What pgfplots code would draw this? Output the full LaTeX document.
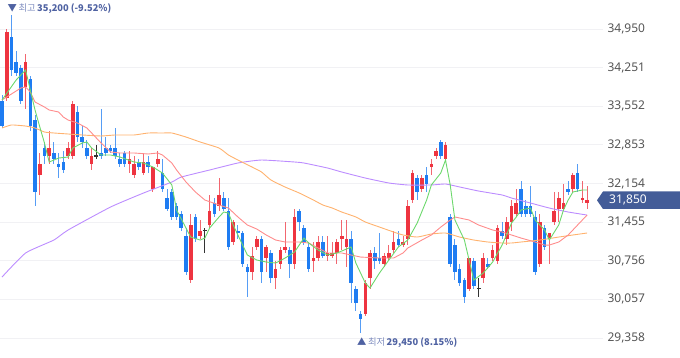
\documentclass[border=0pt]{standalone}
\usepackage{fontspec}
\setmainfont{Noto Sans}
\newfontfamily\kr{Noto Sans CJK KR}
\usepackage{pgfplots}
\pgfplotsset{compat=1.18}
\usepackage{pgfplotstable}
\definecolor{cred}{HTML}{EE3440}
\definecolor{cblue}{HTML}{1E7CF2}
\definecolor{magreen}{HTML}{6CD86C}
\definecolor{mared}{HTML}{FF8C8C}
\definecolor{maorange}{HTML}{FFB26E}
\definecolor{mapurple}{HTML}{BC8CFF}
\definecolor{tickgray}{HTML}{555555}
\definecolor{gridc}{HTML}{F1F1F4}
\definecolor{boxblue}{HTML}{435C98}
\definecolor{anndark}{HTML}{4F62A2}
\definecolor{annlight}{HTML}{7F8DBF}

\pgfplotstableread{
i o h l c
1 33700 34950 33650 34900
5 33900 34500 33500 34350
8 32300 32700 31950 32500
10 32650 33100 32500 32800
14 32650 32900 32600 32800
15 32650 33650 32600 33600
19 32500 32800 32400 32650
27 32500 32750 32350 32600
28 32300 32650 32250 32500
30 32350 32700 32300 32550
32 32050 32450 32000 32450
33 32500 32750 32450 32600
40 30400 31600 30350 31400
42 31200 31500 31150 31300
44 31400 31950 31350 31650
46 31750 32250 31650 31950
49 31100 31500 31050 31450
53 30550 31000 30400 30850
54 31000 31200 30950 31150
56 30800 31050 30550 31000
58 30450 30750 30250 30600
59 30700 31000 30600 30950
60 30950 31450 30900 31000
62 30700 31700 30600 31550
66 30750 31100 30550 30800
67 30800 31200 30750 31100
69 30850 31200 30750 30900
70 30850 31100 30800 30900
71 30900 31150 30700 31100
72 31150 31500 30950 31200
73 31000 31500 30650 31150
77 29800 30400 29750 30350
78 30450 30950 30250 30900
81 30700 30900 30650 30850
82 30800 31050 30750 30900
83 30950 31300 30900 31100
85 31050 31200 31000 31100
86 31150 31850 31050 31750
87 31850 32400 31800 32350
89 32050 32300 32000 32250
91 32450 32600 32300 32500
92 32650 32800 32600 32750
94 32600 32900 32550 32850
99 30250 30800 30200 30800
102 30450 30900 30350 30800
104 30800 31050 30750 30950
105 30750 31400 30700 31350
107 31150 31550 31050 31450
108 31450 31850 31300 31750
109 31600 32050 31550 31800
114 30700 31600 30650 31450
116 31150 31250 30700 31250
117 31450 32000 31400 31650
118 31700 32000 31450 31900
119 31700 32150 31650 31800
121 32050 32350 32000 32300
123 31850 32200 31800 31900
124 31800 32100 31700 31850
}\redtab

\pgfplotstableread{
i o h l c
0 33650 33750 33150 33200
2 34800 35200 34100 34200
3 34350 34550 34100 34150
4 34250 34300 33600 33650
6 34050 34100 33100 33200
7 33300 33400 31750 32000
9 32800 32900 32500 32650
11 32700 32900 32500 32600
12 32500 32700 32250 32450
13 32550 32750 32350 32400
16 33450 33550 32900 33000
17 33000 33200 32800 32900
18 32800 32950 32600 32650
21 32700 33500 32600 32650
22 32800 33000 32650 32700
23 32800 32850 32700 32750
24 32800 33150 32600 32650
25 32600 32700 32450 32500
26 32700 32750 32450 32500
29 32550 32600 32400 32450
31 32550 32650 32350 32450
34 32350 32600 32000 32050
35 31900 32050 31650 31700
36 32000 32050 31500 31550
37 31750 31800 31500 31550
38 31600 31650 31300 31350
39 31200 31350 30500 30550
41 31550 31600 31100 31150
45 31800 31900 31550 31600
47 31900 32000 31650 31700
48 31650 31900 30950 31000
50 31300 31400 31150 31250
51 31250 31300 30650 30700
52 30650 30700 30100 30550
55 31150 31200 30350 30550
57 30900 30950 30350 30450
61 30950 31000 30450 30700
63 31650 31700 31300 31450
64 31350 31400 31050 31100
65 31000 31100 30550 30600
68 31100 31200 30800 30850
74 31150 31300 30000 30350
75 30250 30300 29850 30000
76 29800 29850 29450 29700
79 30900 31000 30600 30750
80 30800 31250 30700 30750
84 31150 31300 31000 31050
88 32250 32300 31850 32000
90 32300 32450 32000 32150
93 32900 32950 32600 32650
95 31550 31600 30650 30700
96 31050 31150 30400 30550
97 30600 30700 30300 30350
98 30400 30450 30000 30100
100 30750 30800 30250 30300
103 30700 30800 30600 30650
106 31300 31450 31150 31200
110 32050 32200 31550 31600
111 31750 31850 31550 31600
112 31750 32100 31550 31600
113 31550 31650 30500 30550
115 31350 31400 30950 31000
120 32050 32200 31950 32000
122 32350 32500 32000 32050
}\bluetab

\pgfplotstableread{
i o h l c
20 32650 32850 32600 32650
43 31300 31350 30900 31300
101 30250 30450 30100 30250
}\dojitab

\pgfplotstableread{
i v
0 33665
3 34027
5 34208
7 33484
8 33181
9 32887
10 32543
12 32615
14 32633
15 32796
17 32887
18 32905
19 32796
21 32670
23 32670
25 32633
28 32543
30 32525
32 32452
34 32344
36 32127
37 31674
39 31348
40 31185
42 31131
43 31167
44 31348
46 31548
47 31638
48 31620
49 31403
51 31041
52 30860
54 30769
56 30733
58 30715
60 30805
62 30914
64 31167
65 31077
67 30950
69 30860
71 30896
74 31004
75 30715
77 30353
78 30262
80 30534
82 30769
84 31004
86 31131
88 31439
90 31855
91 32127
93 32344
94 32579
95 32127
96 31493
98 31131
99 30769
100 30407
102 30534
104 30733
106 31041
108 31439
109 31548
110 31674
112 31710
113 31493
115 31312
116 31131
118 31403
119 31674
120 31855
121 32000
123 32036
124 32036
}\tgreen

\pgfplotstableread{
i v
0 33665
4 33882
5 33900
6 33810
7 33629
9 33538
10 33484
12 33448
13 33357
14 33303
16 33249
18 33158
19 33068
21 32887
23 32724
25 32706
28 32706
31 32688
33 32706
34 32670
36 32525
37 32398
39 32181
41 32000
43 31855
46 31765
48 31710
50 31548
52 31403
54 31330
56 31222
58 31131
60 31095
63 31095
65 31077
67 30986
69 30896
72 30896
74 30860
76 30823
80 30805
83 30805
85 30896
86 30986
89 31131
91 31222
93 31366
95 31493
96 31548
99 31493
101 31403
104 31312
106 31276
108 31222
110 31167
113 31095
115 31040
116 31040
118 31095
120 31222
122 31403
124 31583
}\tred

\pgfplotstableread{
i v
0 33158
2 33213
5 33194
7 33158
9 33086
11 33068
14 33050
17 33032
21 33014
24 33032
28 33032
31 33068
34 33068
36 33068
39 32995
42 32905
46 32796
48 32670
50 32579
53 32452
55 32362
57 32217
60 32090
63 31982
66 31855
68 31765
70 31710
72 31638
75 31548
77 31457
80 31366
83 31276
85 31222
88 31185
91 31240
94 31258
97 31185
100 31131
103 31095
106 31077
108 31077
110 31095
114 31131
118 31185
121 31222
124 31258
}\torange

\pgfplotstableread{
i v
0 30461
5 30896
11 31131
14 31312
23 31728
30 31982
36 32181
38 32271
44 32398
50 32525
55 32579
62 32543
64 32525
69 32434
72 32362
77 32253
82 32163
86 32127
91 32127
94 32145
97 32091
101 32018
106 31946
108 31891
112 31801
116 31710
120 31638
124 31583
}\tpurple

\begin{document}
\begin{tikzpicture}[x=1pt,y=1pt]
\useasboundingbox (0,0) rectangle (680,358);
\begin{axis}[
 at={(0,0)}, anchor=south west,
 scale only axis, width=603pt, height=358pt,
 xmin=-0.424, xmax=127.38, ymin=28996, ymax=35475,
 axis line style={draw=none}, xtick=\empty,
 ytick={29358,30057,30756,31455,32154,32853,33552,34251,34950},
 yticklabels={{29,358},{30,057},{30,756},{31,455},{32,154},{32,853},{33,552},{34,251},{34,950}},
 yticklabel pos=right,
 major tick length=0pt, tick style={draw=none},
 ymajorgrids, grid style={draw=gridc, line width=0.8pt},
 yticklabel style={font=\fontsize{12}{12}\selectfont, text=tickgray, anchor=west, xshift=1pt},
 clip=false,
 candle/.style={draw=none, mark=none, forget plot, error bars/y dir=both, error bars/y explicit, error bars/error mark=none},
]
% wicks
\addplot[candle, error bars/error bar style={line width=1pt, draw=cred, draw opacity=0.75}]
  table[x=i, y expr={(\thisrow{h}+\thisrow{l})/2}, y error expr={(\thisrow{h}-\thisrow{l})/2}] {\redtab};
\addplot[candle, error bars/error bar style={line width=1pt, draw=cblue, draw opacity=0.75}]
  table[x=i, y expr={(\thisrow{h}+\thisrow{l})/2}, y error expr={(\thisrow{h}-\thisrow{l})/2}] {\bluetab};
\addplot[candle, error bars/error bar style={line width=1pt, draw=black!80}]
  table[x=i, y expr={(\thisrow{h}+\thisrow{l})/2}, y error expr={(\thisrow{h}-\thisrow{l})/2}] {\dojitab};
% bodies
\addplot[candle, error bars/error bar style={line width=3.6pt, draw=cred}]
  table[x=i, y expr={(\thisrow{o}+\thisrow{c})/2}, y error expr={abs(\thisrow{c}-\thisrow{o})/2}] {\redtab};
\addplot[candle, error bars/error bar style={line width=3.6pt, draw=cblue}]
  table[x=i, y expr={(\thisrow{o}+\thisrow{c})/2}, y error expr={abs(\thisrow{c}-\thisrow{o})/2}] {\bluetab};
\addplot[only marks, mark=-, mark size=2pt, mark options={line width=1.2pt, draw=black!80}, forget plot]
  table[x=i, y=c] {\dojitab};
% moving averages
\addplot[mapurple, line width=0.9pt, smooth, tension=0.3] table[x=i, y=v] {\tpurple};
\addplot[maorange, line width=0.9pt, smooth, tension=0.3] table[x=i, y=v] {\torange};
\addplot[mared, line width=0.9pt] table[x=i, y=v] {\tred};
\addplot[magreen, line width=0.9pt] table[x=i, y=v] {\tgreen};
\end{axis}
% annotations
\node[anchor=west, inner sep=0, font=\kr\fontsize{9.3}{9.3}\selectfont] at (7.5,349)
  {\textcolor{anndark}{▼}\,\textcolor{annlight}{최고}\,\textcolor{anndark}{\bfseries 35,200 (-9.52\%)}};
\node[anchor=west, inner sep=0, font=\kr\fontsize{9.3}{9.3}\selectfont] at (357,15)
  {\textcolor{anndark}{▲}\,\textcolor{annlight}{최저}\,\textcolor{anndark}{\bfseries 29,450 (8.15\%)}};
% current price box
\fill[boxblue] (597,157.7) -- (603,166.5) -- (680,166.5) -- (680,149) -- (603,149) -- cycle;
\node[anchor=west, text=white, font=\fontsize{12}{12}\selectfont, inner sep=0] at (609,157.7) {31,850};
\end{tikzpicture}
\end{document}
